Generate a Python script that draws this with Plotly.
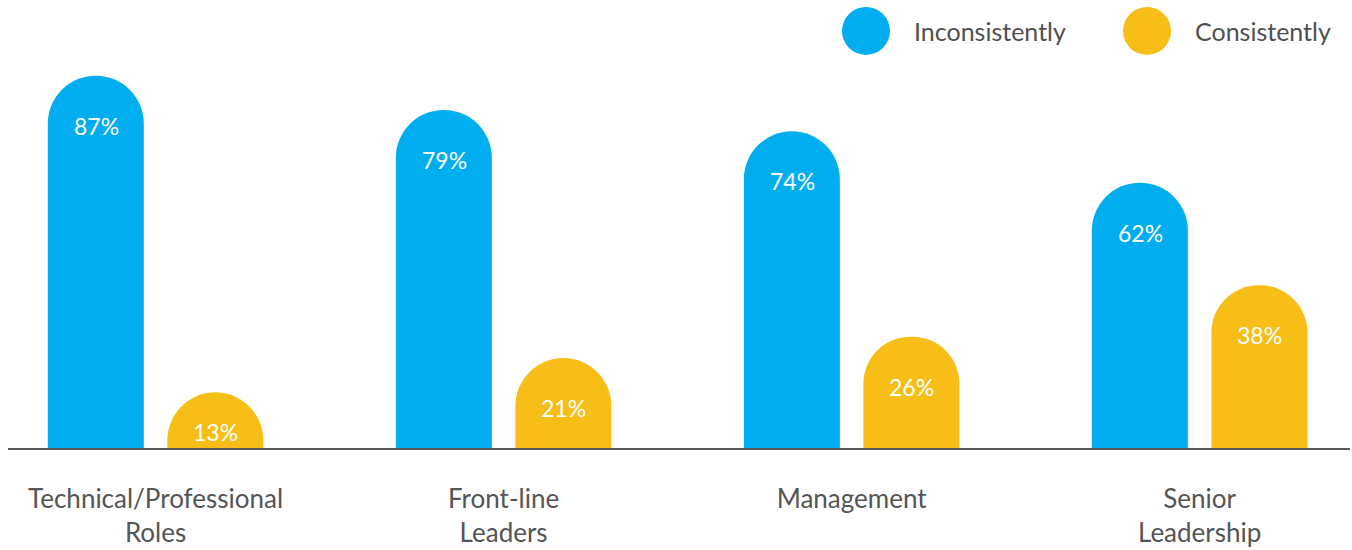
import plotly.graph_objects as go

categories = ["Technical/Professional<br>Roles", "Front-line<br>Leaders", "Management", "Senior<br>Leadership"]
inconsistently = [87, 79, 74, 62]
consistently = [13, 21, 26, 38]
series_names = ["Inconsistently", "Consistently"]
colors = ["#00AEEF", "#F6BE17"]

FONT = "Lato"
W, L, T, PH = 1342, 8, 20, 431   # plot width, left margin, top margin, plot height (px)
Y_MAX = 100
PX_PER_UNIT = PH / Y_MAX
BAR_SHIFT = 59.5                 # px offset of each bar from its category centre

fig = go.Figure()
for name, vals, col in zip(series_names, [inconsistently, consistently], colors):
    fig.add_trace(go.Bar(
        x=categories, y=vals, name=name,
        marker=dict(color=col, cornerradius="50%", line=dict(width=0)),
        hoverinfo="skip",
    ))

# value labels sitting inside the rounded bar tops
for sign, vals in zip([-1, 1], [inconsistently, consistently]):
    for cat, v in zip(categories, vals):
        drop = min(50, 0.7 * v * PX_PER_UNIT)
        fig.add_annotation(x=cat, y=v, xref="x", yref="y",
                           xshift=sign * BAR_SHIFT, yshift=-drop,
                           yanchor="middle", showarrow=False,
                           text=f"{v}%",
                           font=dict(family=FONT, size=23, color="white"))

# custom legend: large round swatches with labels
legend_items = [(866, 912), (1147, 1193)]
for (cx, tx), name, col in zip(legend_items, series_names, colors):
    fig.add_shape(type="circle", xref="paper", yref="paper",
                  xsizemode="pixel", ysizemode="pixel",
                  xanchor=(cx - L) / W, yanchor=(T + PH - 31) / PH,
                  x0=-24, x1=24, y0=-24, y1=24,
                  fillcolor=col, line=dict(width=0))
    fig.add_annotation(xref="paper", yref="paper",
                       x=(tx - L) / W, y=(T + PH - 31) / PH,
                       xanchor="left", yanchor="middle", showarrow=False,
                       text=name, font=dict(family=FONT, size=25, color="#505050"))

fig.update_layout(
    width=1352, height=550,
    margin=dict(l=L, r=2, t=T, b=99),
    paper_bgcolor="white", plot_bgcolor="white",
    barmode="group", bargap=0.313, bargroupgap=0.197,
    showlegend=False,
    xaxis=dict(range=[-0.424, 3.432], showgrid=False, zeroline=False,
               showline=True, linecolor="#5a5a5a", linewidth=2,
               ticks="", ticklabelstandoff=27,
               tickfont=dict(family=FONT, size=26, color="#555555")),
    yaxis=dict(range=[0, Y_MAX], visible=False, showgrid=False, zeroline=False),
)

fig.write_html("out.html")
